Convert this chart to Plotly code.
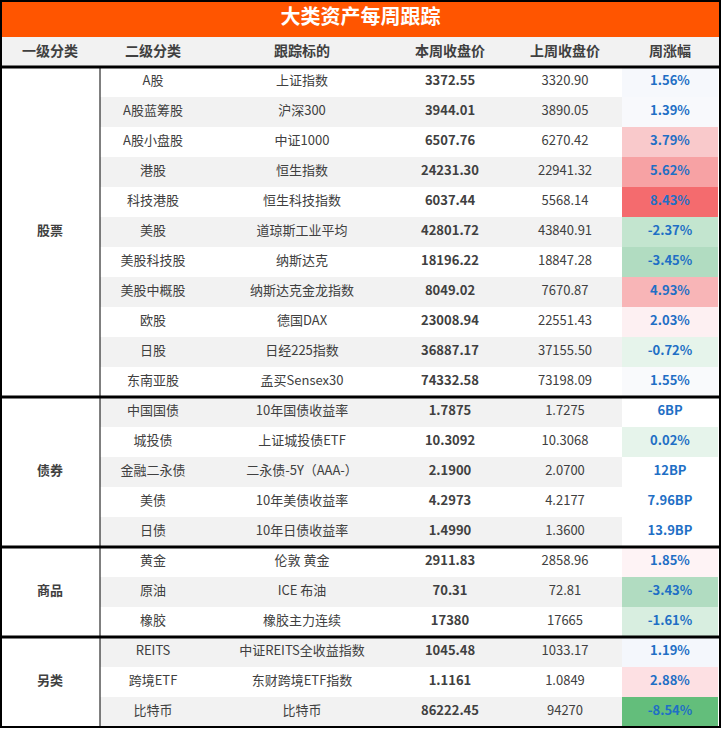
import plotly.graph_objects as go

title = "大类资产每周跟踪"
headers = ["一级分类", "二级分类", "跟踪标的", "本周收盘价", "上周收盘价", "周涨幅"]

groups = ["股票", "债券", "商品", "另类"]
group_sizes = [11, 5, 3, 3]

sub_cats = ["A股", "A股蓝筹股", "A股小盘股", "港股", "科技港股", "美股", "美股科技股", "美股中概股",
            "欧股", "日股", "东南亚股",
            "中国国债", "城投债", "金融二永债", "美债", "日债",
            "黄金", "原油", "橡胶",
            "REITS", "跨境ETF", "比特币"]
targets = ["上证指数", "沪深300", "中证1000", "恒生指数", "恒生科技指数", "道琼斯工业平均", "纳斯达克",
           "纳斯达克金龙指数", "德国DAX", "日经225指数", "孟买Sensex30",
           "10年国债收益率", "上证城投债ETF", "二永债-5Y（AAA-）", "10年美债收益率", "10年日债收益率",
           "伦敦 黄金", "ICE 布油", "橡胶主力连续",
           "中证REITS全收益指数", "东财跨境ETF指数", "比特币"]
this_week = ["3372.55", "3944.01", "6507.76", "24231.30", "6037.44", "42801.72", "18196.22", "8049.02",
             "23008.94", "36887.17", "74332.58",
             "1.7875", "10.3092", "2.1900", "4.2973", "1.4990",
             "2911.83", "70.31", "17380",
             "1045.48", "1.1161", "86222.45"]
last_week = ["3320.90", "3890.05", "6270.42", "22941.32", "5568.14", "43840.91", "18847.28", "7670.87",
             "22551.43", "37155.50", "73198.09",
             "1.7275", "10.3068", "2.0700", "4.2177", "1.3600",
             "2858.96", "72.81", "17665",
             "1033.17", "1.0849", "94270"]
change = ["1.56%", "1.39%", "3.79%", "5.62%", "8.43%", "-2.37%", "-3.45%", "4.93%",
          "2.03%", "-0.72%", "1.55%",
          "6BP", "0.02%", "12BP", "7.96BP", "13.9BP",
          "1.85%", "-3.43%", "-1.61%",
          "1.19%", "2.88%", "-8.54%"]
change_colors = ["#f6f8fc", "#f8f9fc", "#f9c9cb", "#f7a2a4", "#f46b6e", "#c3e5cf", "#b1dcc1", "#f8b5b7",
                 "#fdf0f2", "#e6f4eb", "#f9fafc",
                 "#ffffff", "#e6f4eb", "#ffffff", "#ffffff", "#ffffff",
                 "#fef3f5", "#b1dcc1", "#d8eee0",
                 "#f4f7fc", "#fde0e3", "#63be7b"]

col_x = [50, 153, 302, 450, 565, 670]
row_h = 30
top = 67
n = len(sub_cats)
row_y = [top + row_h * i + row_h / 2 for i in range(n)]
TXT = "#404040"
FONT = "Noto Sans CJK SC"

fig = go.Figure()
shapes = []

# title bar and header
shapes.append(dict(type="rect", x0=0, x1=721, y0=0, y1=37, fillcolor="#ff5500", line_width=0, layer="below"))
shapes.append(dict(type="rect", x0=0, x1=721, y0=37, y1=top, fillcolor="#f2f2f2", line_width=0, layer="below"))

# row backgrounds
for i in range(n):
    y0 = top + row_h * i
    if i % 2 == 1:
        shapes.append(dict(type="rect", x0=100, x1=622, y0=y0, y1=y0 + row_h, fillcolor="#f2f2f2",
                           line_width=0, layer="below"))
    shapes.append(dict(type="rect", x0=622, x1=718, y0=y0, y1=y0 + row_h, fillcolor=change_colors[i],
                       line_width=0, layer="below"))

# lines
shapes.append(dict(type="line", x0=0, x1=721, y0=top, y1=top, line=dict(color="black", width=3)))
shapes.append(dict(type="line", x0=100, x1=100, y0=top, y1=top + row_h * n, line=dict(color="black", width=1)))
start = 0
for g, s in zip(groups, group_sizes):
    start += s
    if start < n:
        yy = top + row_h * start
        shapes.append(dict(type="line", x0=0, x1=721, y0=yy, y1=yy, line=dict(color="black", width=3)))
shapes.append(dict(type="rect", x0=1, x1=720, y0=1, y1=top + row_h * n, line=dict(color="black", width=2)))

fig.add_trace(go.Scatter(x=[360.5], y=[18.5], mode="text", text=["<b>" + title + "</b>"],
                         textfont=dict(family=FONT, size=20, color="white"), hoverinfo="skip"))
fig.add_trace(go.Scatter(x=col_x, y=[52] * 6, mode="text", text=["<b>" + h + "</b>" for h in headers],
                         textfont=dict(family=FONT, size=14, color=TXT), hoverinfo="skip"))

# group labels at merged cell centers
gy = []
start = 0
for s in group_sizes:
    gy.append(top + row_h * (start + s / 2))
    start += s
fig.add_trace(go.Scatter(x=[col_x[0]] * len(groups), y=gy, mode="text", text=["<b>" + g + "</b>" for g in groups],
                         textfont=dict(family=FONT, size=13, color=TXT), hoverinfo="skip"))

for xi, vals, bold, color in [(col_x[1], sub_cats, False, TXT), (col_x[2], targets, False, TXT),
                              (col_x[3], this_week, True, TXT), (col_x[4], last_week, False, TXT),
                              (col_x[5], change, True, "#1f6fc5")]:
    txt = ["<b>" + v + "</b>" if bold else v for v in vals]
    fig.add_trace(go.Scatter(x=[xi] * n, y=row_y, mode="text", text=txt,
                             textfont=dict(family=FONT, size=13, color=color), hoverinfo="skip"))

fig.update_layout(
    width=721, height=730, margin=dict(l=0, r=0, t=0, b=0),
    paper_bgcolor="white", plot_bgcolor="white", showlegend=False, shapes=shapes,
    xaxis=dict(range=[0, 721], visible=False, fixedrange=True),
    yaxis=dict(range=[730, 0], visible=False, fixedrange=True),
)
fig.write_html("out.html", config={"displayModeBar": False},
               post_script="document.body.style.margin='0';document.body.style.overflow='hidden';")
